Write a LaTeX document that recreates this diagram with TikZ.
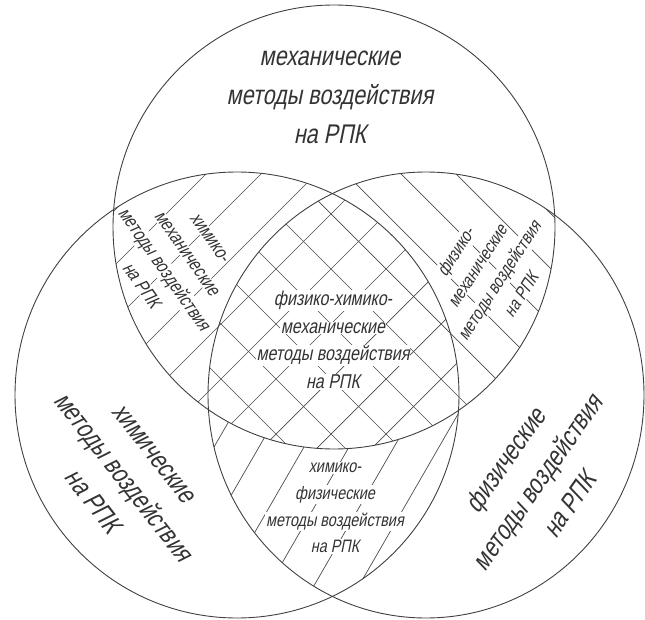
\documentclass[tikz,border=0pt]{standalone}
\usepackage{fontspec}
\newfontfamily\gost{Liberation Sans}[FakeSlant=0.2,FakeStretch=0.8]
\newcommand\wb[1]{\colorbox{white}{#1}}
\setlength\fboxsep{1pt}
\begin{document}
\begin{tikzpicture}[x=1pt,y=-1pt,
  ring/.style={draw=black!75, line width=0.9pt},
  hatch/.style={draw=black!70, line width=0.7pt},
  lbl/.style={text=black!80, align=center, inner sep=0pt},
  big/.style={lbl, font=\gost\fontsize{27}{39}\selectfont},
  small/.style={lbl, font=\gost\fontsize{19}{28}\selectfont}
]
\useasboundingbox (0,0) rectangle (645,620);
\coordinate (T) at (334,227);
\coordinate (L) at (237,395);
\coordinate (R) at (426,395);
% 60 deg hatching in left-right lens
\begin{scope}
\clip (L) ellipse [x radius=222, y radius=223];
\clip (R) ellipse [x radius=218, y radius=223];
\foreach \n in {-6,...,8} {\pgfmathsetmacro\hc{517+45*\n} \draw[hatch] (\hc,0) -- ({\hc-404},700);}
\fill[white] (T) ellipse [x radius=221, y radius=222];
\end{scope}
% 45 deg / hatching in top-left lens
\begin{scope}
\clip (T) ellipse [x radius=221, y radius=222];
\clip (L) ellipse [x radius=222, y radius=223];
\foreach \n in {-4,...,12} {\pgfmathsetmacro\hc{380+55*\n} \draw[hatch] (\hc,0) -- ({\hc-700},700);}
\end{scope}
% 45 deg \ hatching in top-right lens
\begin{scope}
\clip (T) ellipse [x radius=221, y radius=222];
\clip (R) ellipse [x radius=218, y radius=223];
\foreach \n in {-10,...,6} {\pgfmathsetmacro\hc{227+55*\n} \draw[hatch] (\hc,0) -- ({\hc+700},700);}
\end{scope}
% labels
\node[big] (mech) at (330,97) {механические\\методы воздействия\\на РПК};
\node[big, rotate=-52] (chem) at (122,478) {химические\\методы воздействия\\на РПК};
\node[big, rotate=55] (phys) at (537,482) {физические\\методы воздействия\\на РПК};
\node[small, rotate=-55] (chemmech) at (175,262) {\wb{химико-}\\\wb{механические}\\\wb{методы воздействия}\\\wb{на РПК}};
\node[small, rotate=57, font=\gost\fontsize{18}{26}\selectfont] (physmech) at (488,273) {\wb{физико-}\\\wb{механические}\\\wb{методы воздействия}\\\wb{на РПК}};
\node[small, font=\gost\fontsize{20}{27.7}\selectfont] (all) at (333,340) {\wb{физико-химико-}\\\wb{механические}\\\wb{методы воздействия}\\\wb{на РПК}};
\node[small, font=\gost\fontsize{18}{26.7}\selectfont] (chemphys) at (335,508) {\wb{химико-}\\\wb{физические}\\\wb{методы воздействия}\\\wb{на РПК}};
% circles
\draw[ring] (T) ellipse [x radius=221, y radius=222];
\draw[ring] (L) ellipse [x radius=222, y radius=223];
\draw[ring] (R) ellipse [x radius=218, y radius=223];
\end{tikzpicture}
\end{document}
